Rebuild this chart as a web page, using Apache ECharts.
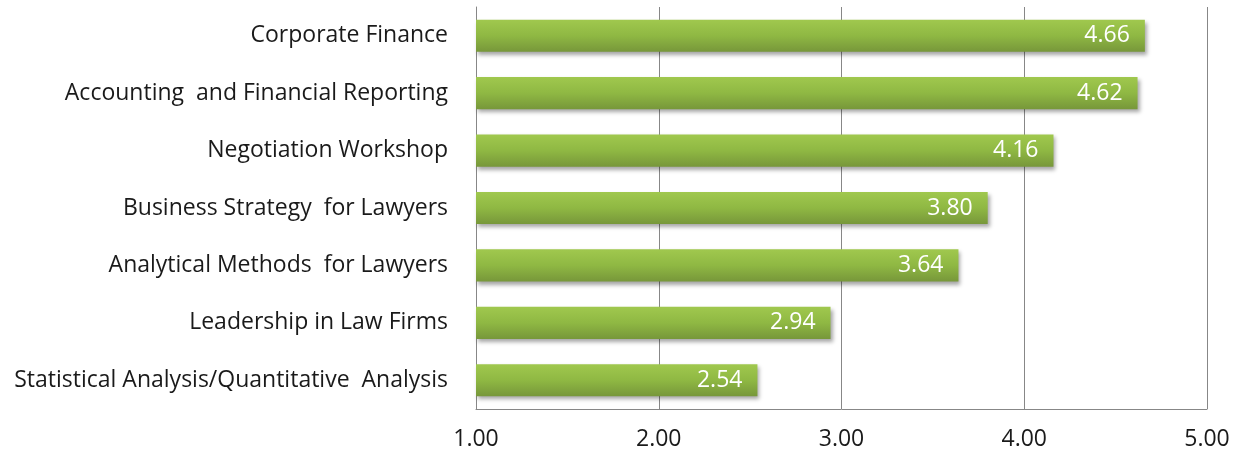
<!DOCTYPE html>
<html><head><meta charset="utf-8">
<script src="https://cdn.jsdelivr.net/npm/echarts@6/dist/echarts.min.js"></script>
<style>html,body{margin:0;padding:0;background:#fff}#c{width:1243px;height:456px}</style>
</head><body><div id="c"></div>
<script>
const categories = ["Corporate Finance", "Accounting  and Financial Reporting", "Negotiation Workshop", "Business Strategy  for Lawyers", "Analytical Methods  for Lawyers", "Leadership in Law Firms", "Statistical Analysis/Quantitative  Analysis"];
const values = [4.66, 4.62, 4.16, 3.80, 3.64, 2.94, 2.54];
const tickLabels = ["1.00", "2.00", "3.00", "4.00", "5.00"];
const font = '"Open Sans", sans-serif';
const chart = echarts.init(document.getElementById('c'));
chart.setOption({
  animation: false,
  grid: {left: 476, right: 36, top: 7, bottom: 47, containLabel: false},
  xAxis: {
    type: 'value', min: 1, max: 5, interval: 1,
    axisLine: {show: true, lineStyle: {color: '#878787', width: 1}},
    axisTick: {show: false},
    splitLine: {show: true, lineStyle: {color: '#878787', width: 1}},
    axisLabel: {color: '#1a1a1a', fontSize: 23, fontFamily: font, margin: 19,
      formatter: v => tickLabels[Math.round(v) - 1]}
  },
  yAxis: {
    type: 'category', inverse: true, data: categories,
    axisLine: {show: true, lineStyle: {color: '#878787', width: 1}},
    axisTick: {show: false},
    axisLabel: {color: '#1a1a1a', fontSize: 23, fontFamily: font, margin: 28}
  },
  series: [{
    type: 'bar', data: values, barCategoryGap: '44%',
    itemStyle: {
      color: new echarts.graphic.LinearGradient(0, 0, 0, 1, [
        {offset: 0, color: '#a0c84e'},
        {offset: 0.5, color: '#8fb843'},
        {offset: 1, color: '#77973a'}
      ]),
      shadowColor: 'rgba(0,0,0,0.35)', shadowBlur: 4, shadowOffsetX: 2, shadowOffsetY: 3
    },
    label: {show: true, position: 'insideRight', distance: 15, color: '#fff',
      fontSize: 23, fontFamily: font, formatter: p => p.value.toFixed(2)}
  }]
});
</script></body></html>
